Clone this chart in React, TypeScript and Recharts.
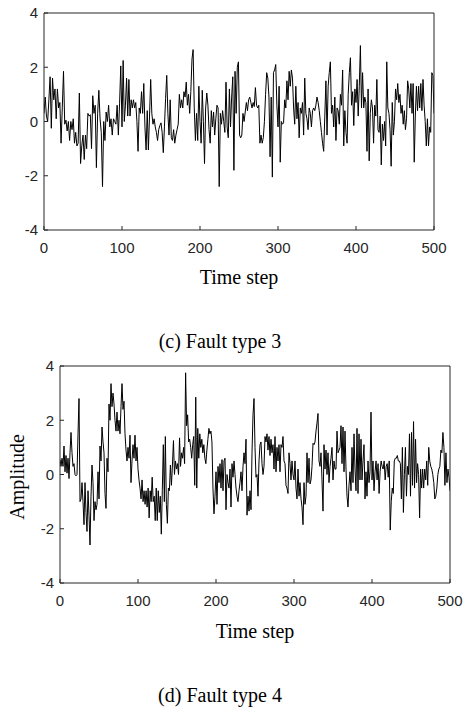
import React from 'react';
import { LineChart, Line, XAxis, YAxis } from 'recharts';

const timeTicks = [0, 100, 200, 300, 400, 500];
const amplitudeTicks = [-4, -2, 0, 2, 4];

const faultType3 = [
  [0.3, 0.9, 0.2, 0.0, 0.8, 1.65, -0.25, 1.6, 0.8, 1.2, 0.1, 1.2, 0.5, 0.7, -0.8, 0.5, 1.85, -0.1, 0.05, -0.35,
    0.0, -0.7, 0.0, -0.3, 0.1, -0.8, -0.4, -0.9, -0.8, 1.05, -1.55, -0.9, -0.5, -1.4, -0.5, -1.0, 0.3, 0.2, 0.25, -1.0,
    0.95, 0.3, 0.6, -1.7, 0.3, 1.15, 0.1, -0.4, -2.4, 0.0, -0.7, 0.35, 0.0, 0.6, -0.2, 0.1, -0.5, 0.1, 0.0, -0.1,
    0.6, -0.5, 0.65, 2.05],
  [-0.2, 2.25, 0.0, 0.6, 1.6, 0.2, 1.55, 0.2, 0.8, 0.5, 0.8, 0.5, 0.7, 0.0, -1.1, 0.5, 0.3, 1.1, 0.3, 1.4,
    -0.2, -1.05, 0.4, -1.05, 0.2, 1.55, 0.3, -0.1, 0.1, -0.2, -0.4, -0.7, -0.3, -0.15, -0.05, -0.4, -1.15, -0.2, 0.85, 1.7,
    0.3, -0.5, 0.8, -0.6, -0.7, -0.3, -0.8, -0.5, -0.3, -0.1, 1.0, 0.5, 0.8, 0.5, 1.1, 0.9, 1.45, 0.6, 1.0, 0.3,
    1.1, 2.3, 2.65, 0.5, -0.7, 0.3, -0.7, 1.3],
  [0.0, -0.8, 1.15, 0.0, -1.55, 0.5, 1.05, 0.6, -0.3, -0.8, 0.4, -0.2, 0.35, -0.5, 0.1, 0.6, 0.5, -2.4, 0.3, -0.1,
    0.4, 0.0, -0.4, 1.45, -0.2, -0.6, 1.2, -0.2, 0.9, 1.65, -1.8, 1.85, 0.3, 2.0, 2.2, -0.5, -0.6, -0.5, 0.3, 0.0,
    0.35, 0.7, 0.4, 0.8, 0.9, 0.7, 0.5, 0.7, 0.55, 1.25, 0.6, 0.5, 0.6, -0.8, -0.5, -0.8, -0.6, 0.0, 1.0, 1.8,
    1.6, 0.9, -1.3, 0.9, -2.05, 1.8, 1.9, 2.1, 0.6],
  [-0.2, 1.3, -1.5, 0.0, -0.1, -0.05, 0.8, 0.5, 1.5, 0.8, 1.85, 1.3, 1.9, 1.6, 0.5, -0.1, 1.3, 0.1, 0.7, -0.6,
    0.5, 0.3, 0.7, -0.5, 1.6, 0.3, 0.1, -0.3, 0.5, 0.3, -0.2, 0.4, 0.5, 0.4, 0.6, 0.9, 0.7, 0.4, 0.0, -0.4,
    -0.8, -1.1, 0.2, 1.5, -0.5, 1.3, 1.8, 2.2, 0.3, 0.6, -0.2, 0.9, -0.7, 0.5, 0.4, -0.1, 1.0, 0.6, 1.9, -0.9,
    0.4, -0.4, -0.8, 1.0, 1.8, 2.35, 0.6, 1.1, -0.15, 1.2],
  [0.7, 1.55, 0.2, 1.3, 2.8, 0.5, 1.8, 0.5, 0.9, 0.7, -1.1, 1.2, -1.45, 0.3, 0.8, 0.5, -0.8, 0.6, 0.2, 1.55,
    -0.3, -0.4, 0.2, -1.6, -0.1, -0.7, 0.0, -0.9, 2.2, 0.5, 0.3, -0.3, -1.65, 0.7, -0.5, 0.0, 1.2, 0.8, 1.4, 0.7,
    1.0, 0.3, 0.6, -0.1, 0.4, -0.3, 0.1, 1.5, 1.2, 0.5, 1.4, 0.3, 1.4, -1.5, 0.2, 1.3, 0.4, 1.3, 0.5, 1.4,
    0.4, 1.55, 0.6, 0.0, -0.9, 0.1, -0.9, -0.2, -0.4, 1.8, 1.7, 0.3],
];

// fault type 4
const faultType4 = [
  [0.55, 0.3, 0.6, 0.3, 1.05, 0.1, 0.7, 0.05, 0.6, -0.15, 0.8, 1.55, 0.8, 0.3, 0.4, 0.0, -0.05, 0.0, 1.5, 2.8,
    -1.0, -0.9, -0.3, -1.0, -1.85, -0.3, -1.4, -2.1, -0.6, -1.5, -2.6, -0.8, 0.35, -0.3, -1.7, -1.0, -1.3, -1.1, 0.1, -0.9,
    1.05, 0.5, 1.75, 1.2, 0.8, -0.7, -1.25, 0.6, 0.1, 2.6, 2.0, 3.35, 2.5, 3.0, 2.6, 2.0, 1.6, 2.3, 1.6, 2.0,
    1.5, 2.5, 3.35, 2.4, 2.7, 1.5, 0.9, 0.5, 1.0, 0.6, 1.45, -0.3, 0.5, 1.1, 0.6, 1.45, 0.5, 1.0],
  [0.2, -0.2, -0.5, -0.9, -0.2, -1.0, -0.6, -1.1, -0.6, -1.2, -0.5, -1.6, -0.6, -1.0, -0.1, -1.0, -0.8, -1.7, -0.5, -1.7,
    -0.6, -1.4, -0.8, -2.2, -0.6, 1.1, -1.0, 1.4, -1.1, -1.8, -0.5, -0.6, 0.35, -0.4, 0.35, 1.25, 0.0, 0.5, 0.2, 0.4,
    0.0, 1.35, 0.3, 0.8, 0.6, 1.0, 0.4, 3.75, 1.8, 2.2, 1.2, 1.3, 1.0, 0.6, 1.1, 1.4, -0.4, 2.85, -0.5, 1.7,
    0.6, 1.5, 1.0, 1.3, 0.8, 1.1, 0.6, 0.4, 0.9, 1.3, 1.7, 1.5, 1.6, 1.2, -0.5, -1.45, -0.8],
  [0.1, -1.1, 0.3, -0.3, 0.4, -0.5, 0.55, -0.6, 0.5, 0.6, -1.3, 0.0, -0.3, -0.5, 0.2, -1.2, 0.4, -0.1, 0.5, 0.0,
    -0.5, -0.8, -1.0, -0.6, -0.3, 0.1, -0.6, 0.3, 0.8, 0.4, 1.3, -1.5, -0.8, -1.35, -0.6, -1.3, 0.8, 2.2, 2.8, 1.0,
    -0.1, 0.0, -0.8, 0.5, 1.1, 1.2, 0.4, 0.0, 0.3, 1.4, 1.2, 1.5, 0.9, 1.4, 0.7, 1.3, 0.8, 1.1, 0.2, 1.4,
    0.1, 1.0, 0.5, 1.1, 0.1, 1.1, 1.0, 1.4, 0.5, 0.4, -0.4, -0.5, -0.7, 0.8, 0.4, -0.2, 0.5, 0.0],
  [-0.2, 0.5, -0.5, -0.9, 0.2, -0.8, -0.3, -0.9, -1.2, -1.85, -0.3, -1.1, -0.8, 0.8, -0.3, 0.6, -0.35, -0.2, 0.3, 1.15,
    1.1, 1.2, 1.6, 1.9, 2.25, 0.5, 0.3, 0.8, -0.2, -1.35, 1.1, 0.2, 0.9, 0.0, 0.8, -0.3, 0.3, 0.6, 1.0, -0.2,
    0.5, 0.2, 0.2, 1.6, 0.8, 0.9, 1.0, 1.8, 0.4, 1.75, 0.1, 1.6, 0.2, -0.8, -1.2, -0.4, 0.1, -0.6, 1.0, -0.3,
    1.5, 0.2, -0.6, 1.7, -0.7, 1.5, -0.2, 1.3, -0.2, 0.5, 1.1, -0.9, 0.1, -0.8, 0.5, -0.3, 0.1, 2.3],
  [-0.2, 0.5, -0.6, 0.1, 0.5, -0.2, 0.4, -0.7, 0.1, 0.5, 0.3, 0.2, 0.5, -0.2, 0.3, 0.4, -0.1, 0.5, -2.05, -1.0,
    -0.5, -0.7, 0.5, 0.6, 0.6, 0.7, 0.5, 0.5, 0.4, -0.9, 1.0, -1.4, 0.0, 1.0, -0.8, 0.3, 0.0, 1.5, -0.8, 1.55,
    -0.4, 1.95, -0.5, 1.3, -0.3, 0.4, 0.0, -1.6, 0.2, -0.5, 0.2, -0.5, 0.2, -0.2, 0.5, -0.4, 1.0, 0.5, 0.3, 0.2,
    0.0, -0.3, -0.9, -0.8, -0.5, 0.0, 0.2, 0.3, 0.9, 0.8, 1.55, 1.0, -0.4, 0.8, -0.3, 0.2, -0.1, -0.6],
];

// each block covers 100 time steps; the last one ends exactly at 500
function toSeries(blocks: number[][]) {
  const rows: { step: number; value: number }[] = [];
  blocks.forEach((block, k) => {
    const isLast = k === blocks.length - 1;
    const div = isLast ? block.length - 1 : block.length;
    block.forEach((v, j) => rows.push({ step: k * 100 + (j * 100) / div, value: v }));
  });
  return rows;
}

const axisColor = '#262626';
const tickFont = { fill: axisColor, fontSize: 15, fontFamily: '"Liberation Sans", Arial, sans-serif' };
const serif = '"Liberation Serif", "Times New Roman", serif';

function Caption({ x, y, text, rotate }: { x: number; y: number; text: string; rotate?: boolean }) {
  return (
    <div
      style={{
        position: 'absolute',
        left: x,
        top: y,
        transform: `translate(-50%, -50%)${rotate ? ' rotate(-90deg)' : ''}`,
        fontFamily: serif,
        fontSize: 20,
        lineHeight: 1,
        whiteSpace: 'nowrap',
        color: '#000',
      }}
    >
      {text}
    </div>
  );
}

function FaultPanel({ data, top, left, right }: { data: any[]; top: number; left: number; right: number }) {
  return (
    <div style={{ position: 'absolute', left: 0, top, width: 465, height: 300 }}>
      <LineChart width={465} height={300} data={data} margin={{ top: 13, right, bottom: 0, left: 0 }}>
        <XAxis
          xAxisId="bottom"
          dataKey="step"
          type="number"
          domain={[0, 500]}
          ticks={timeTicks}
          interval={0}
          allowDataOverflow
          height={69}
          stroke={axisColor}
          tickSize={-4}
          tickMargin={16}
          tick={tickFont}
        />
        <XAxis
          xAxisId="top"
          orientation="top"
          dataKey="step"
          type="number"
          domain={[0, 500]}
          ticks={timeTicks}
          interval={0}
          allowDataOverflow
          height={1}
          stroke={axisColor}
          tickSize={-4}
          tick={false}
        />
        <YAxis
          yAxisId="left"
          type="number"
          domain={[-4, 4]}
          ticks={amplitudeTicks}
          interval={0}
          allowDataOverflow
          width={left}
          stroke={axisColor}
          tickSize={-4}
          tickMargin={10}
          tick={tickFont}
        />
        <YAxis
          yAxisId="right"
          orientation="right"
          type="number"
          domain={[-4, 4]}
          ticks={amplitudeTicks}
          interval={0}
          allowDataOverflow
          width={1}
          stroke={axisColor}
          tickSize={-4}
          tick={false}
        />
        {/* invisible twin so the top and right box edges get drawn */}
        <Line
          xAxisId="top"
          yAxisId="right"
          dataKey="value"
          stroke="none"
          dot={false}
          activeDot={false}
          isAnimationActive={false}
        />
        <Line
          xAxisId="bottom"
          yAxisId="left"
          type="linear"
          dataKey="value"
          stroke="#000"
          strokeWidth={1}
          dot={false}
          isAnimationActive={false}
        />
      </LineChart>
    </div>
  );
}

export default function App() {
  const type3 = toSeries(faultType3);
  const type4 = toSeries(faultType4);
  return (
    <div style={{ position: 'absolute', left: 0, top: 0, width: 465, height: 709, background: '#fff' }}>
      <FaultPanel data={type3} top={-1} left={44} right={30} />
      <Caption x={239} y={277} text="Time step" />
      <Caption x={220} y={341} text="(c) Fault type 3" />

      <FaultPanel data={type4} top={352} left={60} right={14} />
      <Caption x={17} y={477} text="Amplitude" rotate />
      <Caption x={255} y={631} text="Time step" />
      <Caption x={220} y={695} text="(d) Fault type 4" />
    </div>
  );
}
